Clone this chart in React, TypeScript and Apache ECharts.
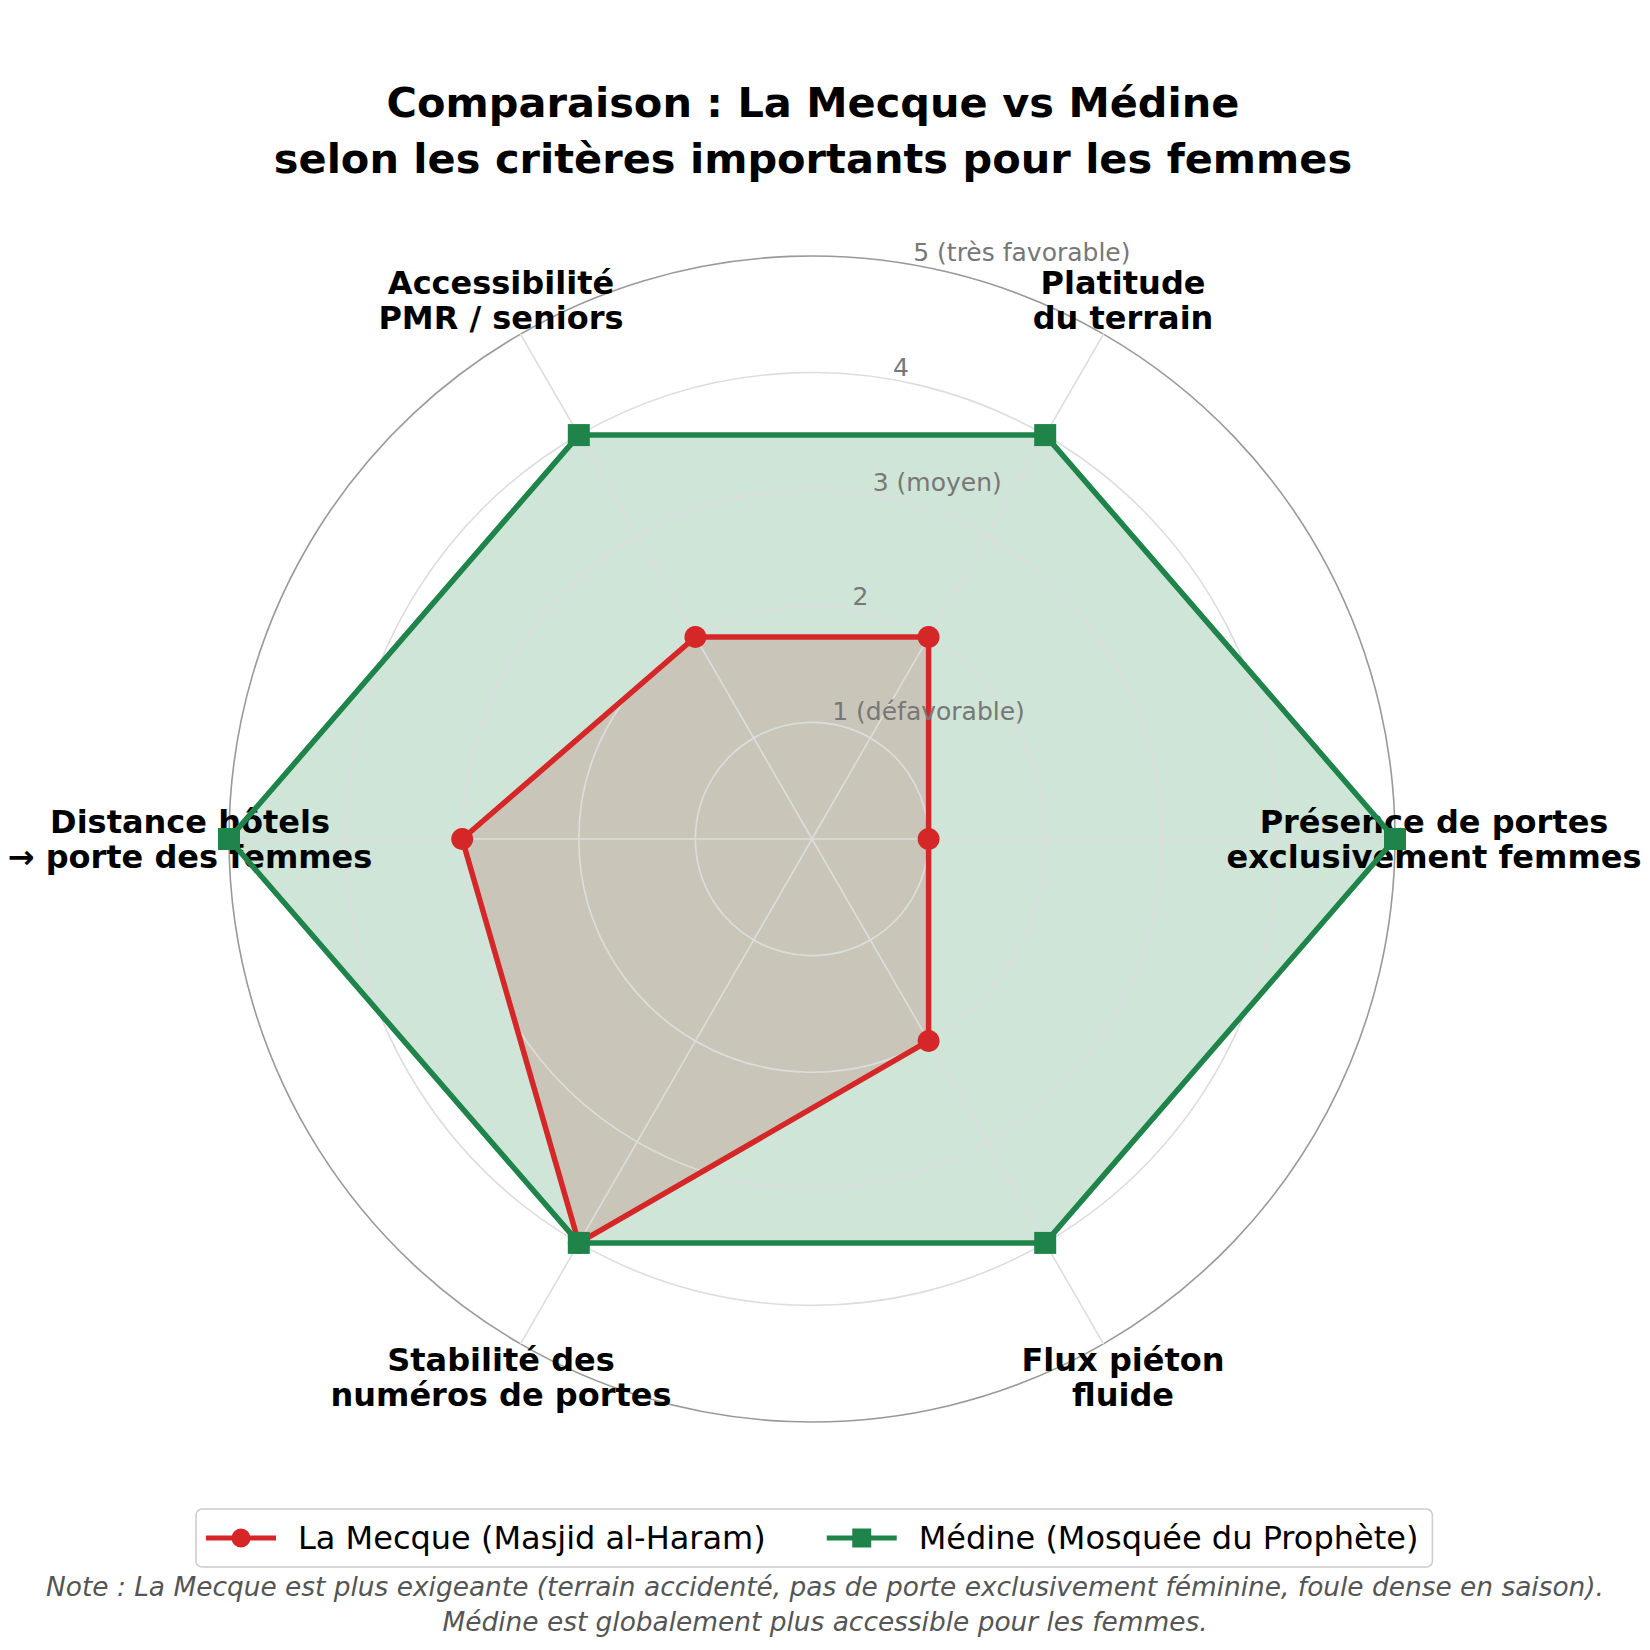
import React, { useEffect, useRef } from "react";
import * as echarts from "echarts";

// ---- Data ----
const categories: string[] = [
  "Présence de portes\nexclusivement femmes",
  "Platitude\ndu terrain",
  "Accessibilité\nPMR / seniors",
  "Distance hôtels\n→ porte des femmes",
  "Stabilité des\nnuméros de portes",
  "Flux piéton\nfluide",
];
const mecqueValues: number[] = [1, 2, 2, 3, 4, 2];
const medineValues: number[] = [5, 4, 4, 5, 4, 4];
const ringValues: number[] = [1, 2, 3, 4, 5];
const ringLabels: string[] = ["1 (défavorable)", "2", "3 (moyen)", "4", "5 (très favorable)"];
const seriesNames: string[] = ["La Mecque (Masjid al-Haram)", "Médine (Mosquée du Prophète)"];
const titleLines: string[] = [
  "Comparaison : La Mecque vs Médine",
  "selon les critères importants pour les femmes",
];
const noteLines: string[] = [
  "Note : La Mecque est plus exigeante (terrain accidenté, pas de porte exclusivement féminine, foule dense en saison).",
  "Médine est globalement plus accessible pour les femmes.",
];

// ---- Layout / style ----
const W = 1650;
const H = 1650;
const CX = 812;
const CY = 839;
const R = 583;
const MAXV = 5;
const RLABEL_ANGLE = (80 * Math.PI) / 180;
const RED = "#d62728";
const GREEN = "#1e8449";
const FONT = "DejaVu Sans";

const ICON_CIRCLE =
  "path://M0,7.4H70V12.6H0Z M35,0.5A9.5,9.5 0 1 1 35,19.5A9.5,9.5 0 1 1 35,0.5Z";
const ICON_SQUARE = "path://M0,7.4H70V12.6H0Z M25.5,0.5H44.5V19.5H25.5Z";

export default function App() {
  const ref = useRef<HTMLDivElement>(null);

  useEffect(() => {
    document.body.style.margin = "0";
    if (!ref.current) return;
    const chart = echarts.init(ref.current, undefined, { renderer: "svg" });

    const ringTexts = ringValues.map((v, i) => {
      const r = (v / MAXV) * R;
      return {
        type: "text",
        z: 20,
        x: CX + r * Math.cos(RLABEL_ANGLE),
        y: CY - r * Math.sin(RLABEL_ANGLE),
        style: {
          text: ringLabels[i],
          fontSize: 25,
          fontFamily: FONT,
          fill: "#777777",
          align: "left",
          verticalAlign: "bottom",
        },
      };
    });

    const noteTexts = noteLines.map((t, i) => ({
      type: "text",
      z: 20,
      x: W / 2,
      y: 1586 + i * 35,
      style: {
        text: t,
        fontSize: 26.4,
        fontStyle: "italic",
        fontFamily: FONT,
        fill: "#555555",
        align: "center",
        verticalAlign: "middle",
      },
    }));

    const option: any = {
      animation: false,
      backgroundColor: "#ffffff",
      title: {
        text: titleLines.join("\n"),
        left: CX + 1,
        top: 74,
        padding: 0,
        textAlign: "center",
        textStyle: {
          fontSize: 41.5,
          fontWeight: "bold",
          fontFamily: FONT,
          color: "#000000",
          lineHeight: 56,
        },
      },
      legend: {
        data: [
          { name: seriesNames[0], icon: ICON_CIRCLE },
          { name: seriesNames[1], icon: ICON_SQUARE },
        ],
        left: 196,
        top: 1509,
        orient: "horizontal",
        itemWidth: 70,
        itemHeight: 20,
        itemGap: 61,
        padding: [13, 14, 13, 10],
        borderColor: "#cccccc",
        borderWidth: 1.5,
        borderRadius: 6,
        selectedMode: false,
        textStyle: {
          fontSize: 32,
          lineHeight: 32,
          fontFamily: FONT,
          color: "#000000",
          padding: [0, 0, 0, 17],
        },
      },
      radar: {
        z: 3,
        center: [CX, CY],
        radius: R,
        startAngle: 0,
        shape: "circle",
        splitNumber: 5,
        nameGap: 39,
        indicator: categories.map((name) => ({ name, min: 0, max: MAXV })),
        axisName: {
          color: "#000000",
          fontSize: 32,
          fontWeight: "bold",
          fontFamily: FONT,
          lineHeight: 35,
          align: "center",
          verticalAlign: "middle",
        },
        splitArea: { show: false },
        splitLine: {
          lineStyle: {
            color: ["#dddddd", "#dddddd", "#dddddd", "#dddddd", "#dddddd", "#999999"],
            width: 1.6,
          },
        },
        axisLine: { lineStyle: { color: "#dddddd", width: 1.6 } },
        axisTick: { show: false },
        axisLabel: { show: false },
      },
      series: [
        {
          type: "radar",
          z: 5,
          symbol: "circle",
          symbolSize: 22,
          itemStyle: { color: RED },
          lineStyle: { color: RED, width: 5.5 },
          data: [{ name: seriesNames[0], value: mecqueValues }],
        },
        {
          type: "radar",
          z: 6,
          symbol: "rect",
          symbolSize: 22,
          itemStyle: { color: GREEN },
          lineStyle: { color: GREEN, width: 5.5 },
          data: [{ name: seriesNames[1], value: medineValues }],
        },
        {
          type: "radar",
          z: 1,
          symbol: "none",
          itemStyle: { color: RED },
          lineStyle: { opacity: 0, width: 0 },
          areaStyle: { color: RED, opacity: 0.18 },
          data: [{ name: seriesNames[0], value: mecqueValues }],
        },
        {
          type: "radar",
          z: 2,
          symbol: "none",
          itemStyle: { color: GREEN },
          lineStyle: { opacity: 0, width: 0 },
          areaStyle: { color: GREEN, opacity: 0.21 },
          data: [{ name: seriesNames[1], value: medineValues }],
        },
      ],
      graphic: [...ringTexts, ...noteTexts],
    };

    chart.setOption(option);
    return () => chart.dispose();
  }, []);

  return <div ref={ref} style={{ width: W, height: H }} />;
}
